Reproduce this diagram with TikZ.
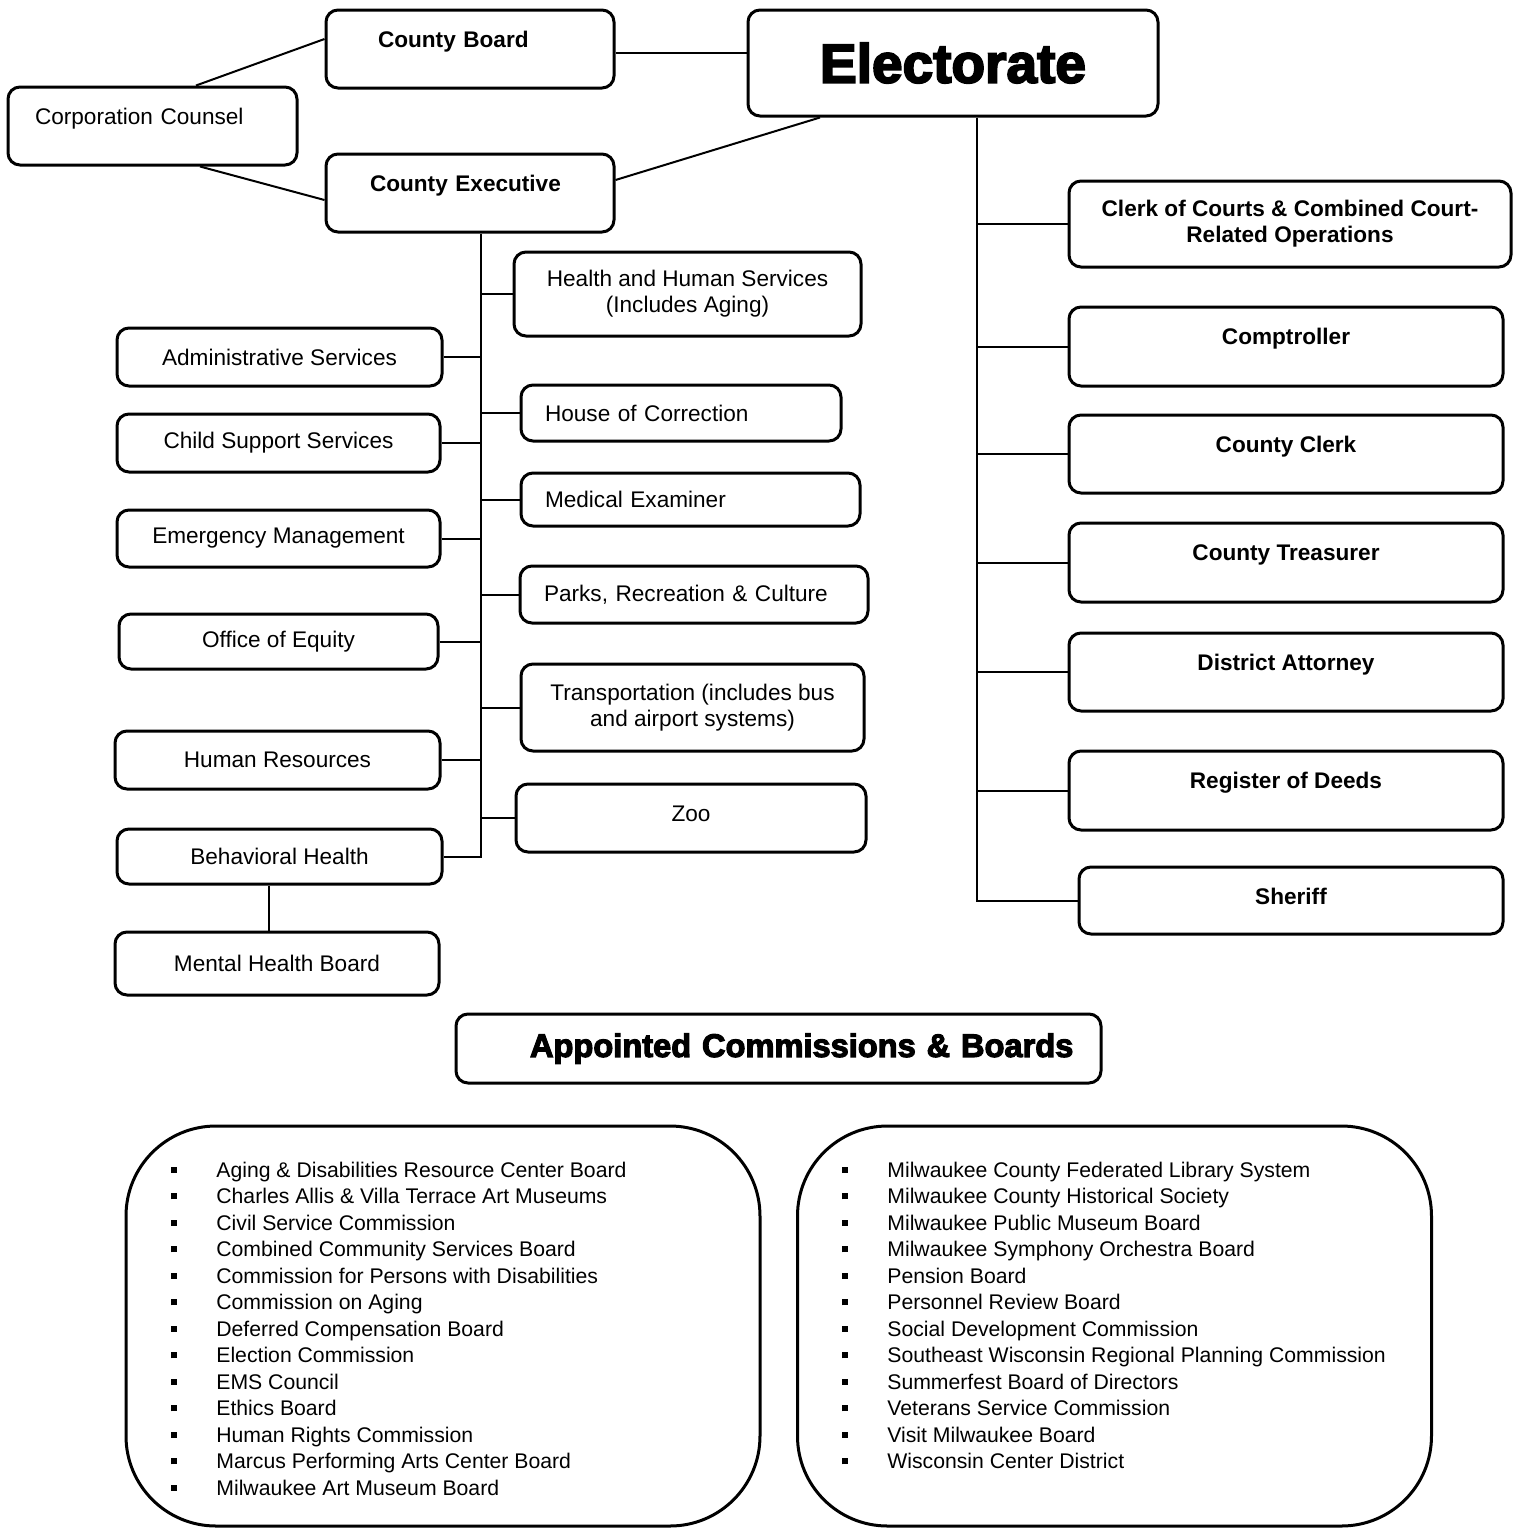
\documentclass[tikz,border=0pt]{standalone}
\usepackage{fontspec}
\setmainfont{Liberation Sans}
\newfontfamily\heavyfont{Liberation Sans}[BoldFeatures={FakeBold=3.5}]
\newcommand\reg{\fontsize{11.3pt}{13pt}\selectfont}
\newcommand\lst{\fontsize{10.6pt}{13pt}\selectfont}
\newcommand\bul{\makebox[22.5pt][l]{\rule[2.1pt]{3pt}{3pt}}}

\begin{document}
\begin{tikzpicture}[x=0.5pt, y=-0.5pt,
  box/.style={draw, line width=1.5pt, rounded corners=6pt, inner xsep=3pt, inner ysep=0pt, align=center, font=\reg},
  bbox/.style={box, font=\reg\bfseries},
  topline/.style={text height=18.5pt, text depth=#1},
  lefttext/.style={align=left, inner xsep=12pt, text width=#1},
  listbox/.style={draw, line width=1.5pt, rounded corners=45pt, minimum width=317pt, minimum height=200pt},
  item/.style={anchor=base west, inner sep=0pt, font=\lst},
  link/.style={line width=1pt}]
\useasboundingbox (0,0) rectangle (1522,1528);

% top
\node[box, minimum width=205pt, minimum height=53pt, font=\heavyfont\fontsize{27.5pt}{30pt}\selectfont\bfseries] (elect) at (953,63) {Electorate};
\node[bbox, topline=20.5pt, lefttext=92pt, inner xsep=26pt] (cb) at (470,49) {County Board};
\node[box, topline=20.5pt, lefttext=117.5pt, inner xsep=13.5pt] (cc) at (152.5,126) {Corporation Counsel};
\node[bbox, topline=20.5pt, lefttext=100pt, inner xsep=22pt] (ce) at (470,193) {County Executive};

% departments left of the executive
\node[box, minimum width=162.5pt, minimum height=29pt] (ad) at (279.5,357) {Administrative Services};
\node[box, minimum width=161.5pt, minimum height=29pt] (cs) at (278.5,443) {Child Support Services};
\node[box, minimum width=161.5pt, minimum height=28.5pt] (em) at (278.5,538.5) {Emergency Management};
\node[box, minimum width=159.5pt, minimum height=27.5pt] (oe) at (278.5,641.5) {Office of Equity};
\node[box, minimum width=162.5pt, minimum height=29pt] (hr) at (277.5,760) {Human Resources};
\node[box, minimum width=162.5pt, minimum height=27.5pt] (bh) at (279.5,856.5) {Behavioral Health};
\node[box, minimum width=162pt, minimum height=31.5pt] (mhb) at (277,963.5) {Mental Health Board};

% departments right of the executive
\node[box, minimum width=173.5pt, minimum height=42pt] (hhs) at (687.5,294) {Health and Human Services\\(Includes Aging)};
\node[box, lefttext=136pt, minimum height=28pt] (hoc) at (681,413) {House of Correction};
\node[box, lefttext=145.5pt, minimum height=26.5pt] (me) at (690.5,499.5) {Medical Examiner};
\node[box, lefttext=150pt, minimum height=28.5pt] (prc) at (694,594.5) {Parks, Recreation \& Culture};
\node[box, minimum width=171.5pt, minimum height=43.5pt] (tr) at (692.5,707.5) {Transportation (includes bus\\and airport systems)};
\node[box, topline=15.5pt, minimum width=175pt] (zoo) at (691,818) {Zoo};

% elected offices
\node[bbox, minimum width=221pt, minimum height=43pt] (coc) at (1290,224) {Clerk of Courts \& Combined Court-\\Related Operations};
\node[bbox, topline=21pt, minimum width=217pt] (comp) at (1286,346.5) {Comptroller};
\node[bbox, topline=20.5pt, minimum width=217pt] (clerk) at (1286,454) {County Clerk};
\node[bbox, topline=21pt, minimum width=217pt] (treas) at (1286,562.5) {County Treasurer};
\node[bbox, topline=20.5pt, minimum width=217pt] (da) at (1286,672) {District Attorney};
\node[bbox, topline=21pt, minimum width=217pt] (rod) at (1286,790.5) {Register of Deeds};
\node[bbox, topline=15pt, minimum width=212pt] (sh) at (1291,900.5) {Sheriff};

% appointed bodies
\node[box, align=left, inner xsep=0pt, text width=322.5pt, minimum height=34.5pt, font=\heavyfont\fontsize{16.3pt}{18pt}\selectfont\bfseries] (acb) at (778.5,1048.5) {\hspace*{37pt}Appointed Commissions \& Boards};
\node[listbox] (lbox) at (443,1326) {};
\node[listbox] (rbox) at (1114.5,1326) {};

\foreach \t [count=\i from 0] in {Aging \& Disabilities Resource Center Board, Charles Allis \& Villa Terrace Art Museums, Civil Service Commission, Combined Community Services Board, Commission for Persons with Disabilities, Commission on Aging, Deferred Compensation Board, Election Commission, EMS Council, Ethics Board, Human Rights Commission, Marcus Performing Arts Center Board, Milwaukee Art Museum Board}
  \node[item] (la\i) at (171,1177+26.5*\i) {\bul\t};
\foreach \t [count=\i from 0] in {Milwaukee County Federated Library System, Milwaukee County Historical Society, Milwaukee Public Museum Board, Milwaukee Symphony Orchestra Board, Pension Board, Personnel Review Board, Social Development Commission, Southeast Wisconsin Regional Planning Commission, Summerfest Board of Directors, Veterans Service Commission, Visit Milwaukee Board, Wisconsin Center District}
  \node[item] (ra\i) at (842,1177+26.5*\i) {\bul\t};

% connectors
\draw[link] ([yshift=-2pt]cb.east) -- ([yshift=-2pt]cb.east -| elect.west);
\draw[link] ([yshift=5pt]cb.west) -- ([xshift=21.75pt]cc.north);
\draw[link] ([xshift=23.75pt]cc.south) -- ([yshift=-3.5pt]ce.west);
\draw[link] ([yshift=6.5pt]ce.east) -- ([xshift=-66.5pt]elect.south);

\coordinate (cespine) at ([xshift=5.5pt]ce.south);
\draw[link] (cespine) |- (bh.east);
\foreach \n in {ad,cs,em,oe,hr}
  \draw[link] (\n.east) -- (\n.east -| cespine);
\foreach \n in {hhs,hoc,me,prc,tr,zoo}
  \draw[link] (\n.west) -- (\n.west -| cespine);
\draw[link] ([xshift=-5.5pt]bh.south) -- ([xshift=-5.5pt]bh.south |- mhb.north);

\coordinate (elspine) at ([xshift=12pt]elect.south);
\draw[link] (elspine) |- (sh.west);
\foreach \n in {coc,comp,clerk,treas,da,rod}
  \draw[link] (\n.west -| elspine) -- (\n.west);
\end{tikzpicture}
\end{document}
